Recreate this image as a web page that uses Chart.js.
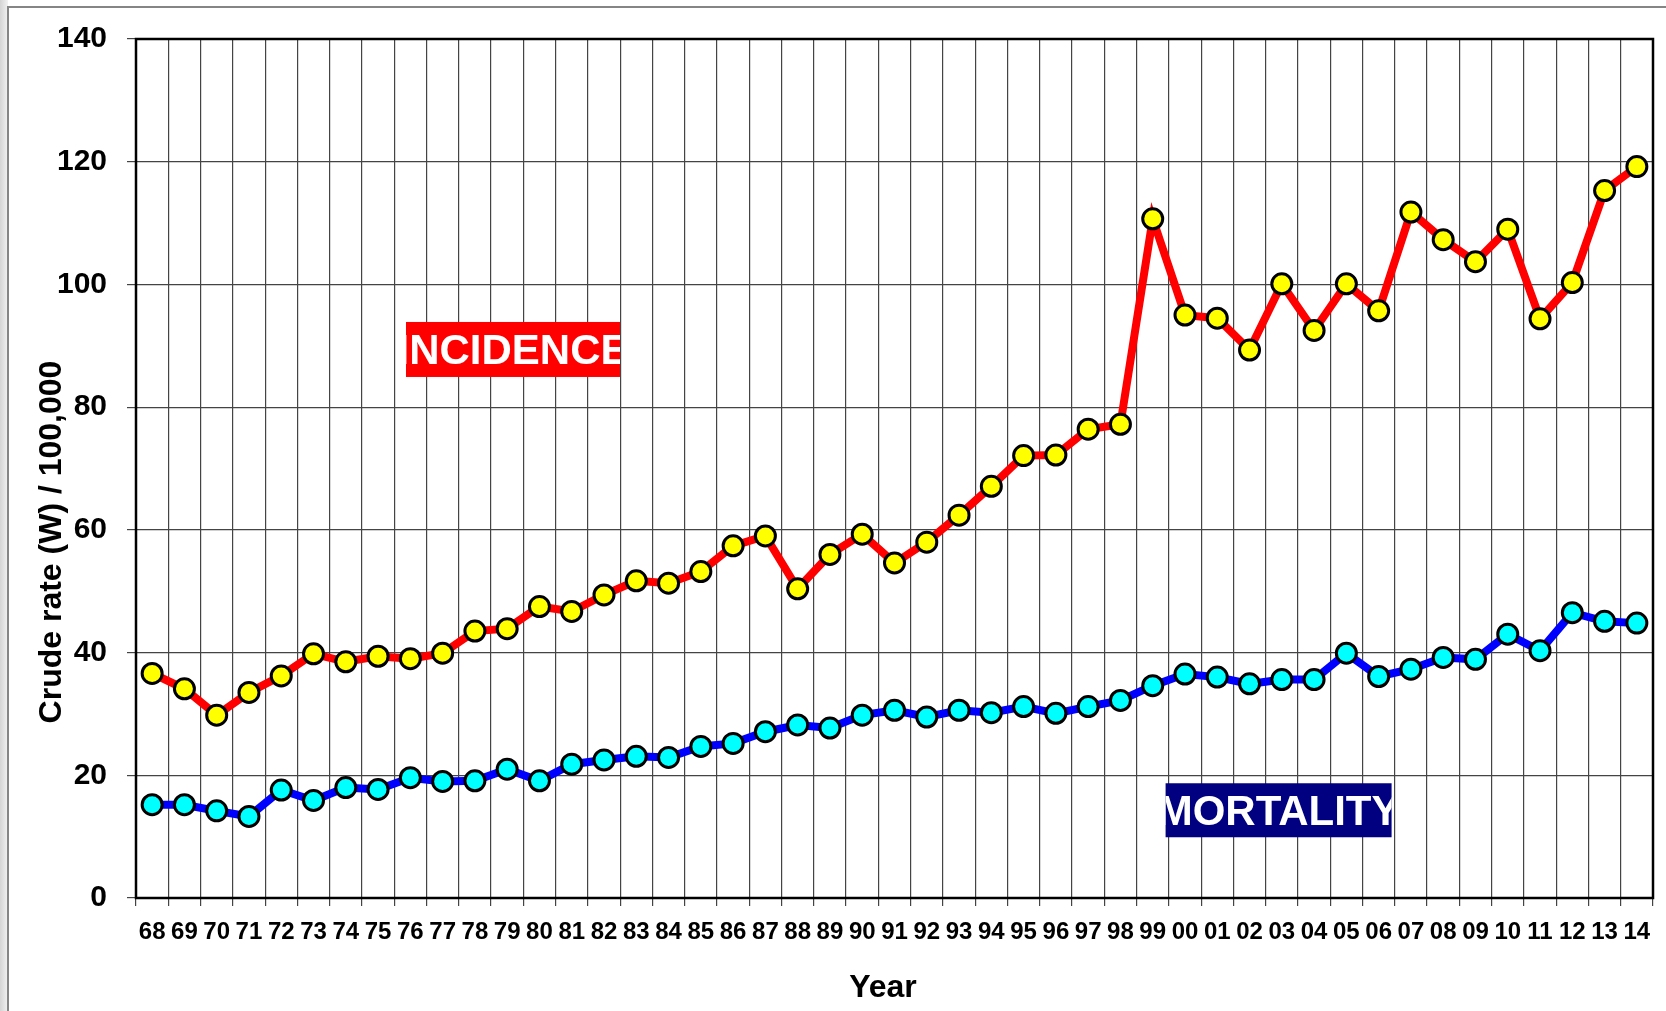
<!DOCTYPE html>
<html>
<head>
<meta charset="utf-8">
<script src="https://cdn.jsdelivr.net/npm/chart.js@4"></script>
<style>
  body { margin: 0; background: #fff; }
  #wrap { width: 1666px; height: 1011px; }
</style>
</head>
<body>
<div id="wrap"><canvas id="rateChart" width="1666" height="1011"></canvas></div>
<script>
// Crude rate (W) per 100,000, 1968-2014

const years = ["68", "69", "70", "71", "72", "73", "74", "75", "76", "77", "78", "79",
    "80", "81", "82", "83", "84", "85", "86", "87", "88", "89", "90", "91", "92", "93",
    "94", "95", "96", "97", "98", "99", "00", "01", "02", "03", "04", "05", "06", "07",
    "08", "09", "10", "11", "12", "13", "14"];

const incidence = [36.6, 34.1, 29.8, 33.5, 36.2, 39.8, 38.5, 39.4, 39.0, 39.9, 43.5, 43.9,
    47.5, 46.7, 49.4, 51.7, 51.3, 53.2, 57.4, 59.0, 50.4, 56.0, 59.3, 54.6, 58.0, 62.4,
    67.1, 72.1, 72.2, 76.4, 77.2, 110.7, 95.0, 94.5, 89.3, 100.1, 92.5, 100.1, 95.7, 111.8,
    107.3, 103.7, 109.0, 94.4, 100.3, 115.3, 119.2];

const mortality = [15.2, 15.2, 14.2, 13.3, 17.6, 15.9, 18.0, 17.7, 19.6, 19.0, 19.1, 21.0,
    19.1, 21.8, 22.5, 23.1, 22.9, 24.7, 25.2, 27.1, 28.2, 27.7, 29.8, 30.6, 29.5, 30.6,
    30.2, 31.2, 30.1, 31.2, 32.2, 34.6, 36.5, 36.0, 34.9, 35.6, 35.6, 39.9, 36.1, 37.3,
    39.2, 38.9, 43.0, 40.3, 46.5, 45.1, 44.8];

const yTicks = [0, 20, 40, 60, 80, 100, 120, 140];

const FONT = "'Liberation Sans', Arial, sans-serif";
Chart.defaults.font.family = FONT;
Chart.defaults.color = "#000";

// page frame, plot border, axis titles and the two boxed series labels
const decor = {
    id: "decor",
    beforeDraw(chart) {
        const ctx = chart.ctx;
        ctx.save();
        ctx.fillStyle = "#fff";
        ctx.fillRect(0, 0, chart.width, chart.height);
        const g = ctx.createLinearGradient(0, 0, 8, 0);
        g.addColorStop(0, "#d4d4d4");
        g.addColorStop(1, "#f2f2f2");
        ctx.fillStyle = g;
        ctx.fillRect(0, 0, 8, chart.height);
        ctx.strokeStyle = "#858585";
        ctx.lineWidth = 2;
        ctx.beginPath();
        ctx.moveTo(8, chart.height);
        ctx.lineTo(8, 7);
        ctx.lineTo(chart.width, 7);
        ctx.stroke();
        ctx.restore();
    },
    beforeDatasetsDraw(chart) {
        const a = chart.chartArea;
        const ctx = chart.ctx;
        ctx.save();
        ctx.strokeStyle = "#000";
        ctx.lineWidth = 2.5;
        ctx.strokeRect(a.left, a.top, a.right - a.left, a.bottom - a.top);
        ctx.restore();
    },
    afterDraw(chart) {
        const x = chart.scales.x, y = chart.scales.y;
        const ctx = chart.ctx;

        // axis titles
        ctx.save();
        ctx.fillStyle = "#000";
        ctx.font = "bold 32px " + FONT;
        ctx.textAlign = "center";
        ctx.textBaseline = "middle";
        ctx.fillText("Year", 883, 988);
        ctx.translate(52, 542);
        ctx.rotate(-Math.PI / 2);
        ctx.fillText("Crude rate (W) / 100,000", 0, 0);
        ctx.restore();

        const boxes = [
            { text: "INCIDENCE", idx: 11.18, val: 89.4, w: 214, h: 55, bg: "#ff0000" },
            { text: "MORTALITY", idx: 34.9, val: 14.3, w: 226, h: 54, bg: "#000080" },
        ];
        boxes.forEach(b => {
            const cx = x.getPixelForValue(b.idx);
            const cy = y.getPixelForValue(b.val);
            ctx.save();
            ctx.fillStyle = b.bg;
            ctx.fillRect(cx - b.w / 2, cy - b.h / 2, b.w, b.h);
            ctx.beginPath();
            ctx.rect(cx - b.w / 2, cy - b.h / 2, b.w, b.h);
            ctx.clip();
            ctx.fillStyle = "#fff";
            ctx.font = "bold 42px " + FONT;
            ctx.textAlign = "center";
            ctx.textBaseline = "alphabetic";
            ctx.fillText(b.text, cx, cy + 15);
            ctx.restore();
        });
    },
};

new Chart(document.getElementById("rateChart"), {
    type: "line",
    data: {
        labels: years,
        datasets: [
            {
                label: "Incidence",
                data: incidence,
                borderColor: "#ff0000",
                borderWidth: 8,
                pointBackgroundColor: "#ffff00",
                pointBorderColor: "#000",
                pointBorderWidth: 3,
                pointRadius: 10,
                tension: 0,
            },
            {
                label: "Mortality",
                data: mortality,
                borderColor: "#0000ff",
                borderWidth: 8,
                pointBackgroundColor: "#00ffff",
                pointBorderColor: "#000",
                pointBorderWidth: 3,
                pointRadius: 10,
                tension: 0,
            },
        ],
    },
    options: {
        responsive: false,
        animation: false,
        layout: { padding: { left: 0, top: 39, right: 12, bottom: 0 } },
        plugins: {
            legend: { display: false },
            tooltip: { enabled: false },
        },
        scales: {
            x: {
                offset: true,
                grid: { offset: true, color: "#444", lineWidth: 1.2, tickLength: 8 },
                border: { display: false },
                ticks: {
                    autoSkip: false,
                    maxRotation: 0,
                    padding: 12,
                    font: { size: 24, weight: "bold" },
                },
                afterFit(s) { s.height = 113; },
            },
            y: {
                min: 0,
                max: 140,
                afterBuildTicks(s) { s.ticks = yTicks.map(v => ({ value: v })); },
                grid: { color: "#444", lineWidth: 1.2, tickLength: 9 },
                border: { display: false },
                ticks: {
                    padding: 20,
                    font: { size: 30, weight: "bold" },
                },
                afterFit(s) { s.width = 136; },
            },
        },
    },
    plugins: [decor],
});
</script>
</body>
</html>
